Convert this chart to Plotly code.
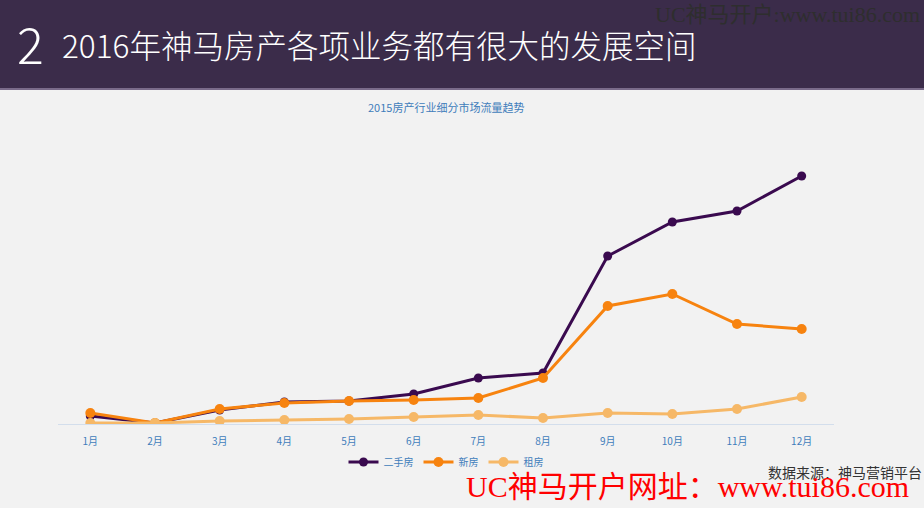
import plotly.graph_objs as go

# 2015 traffic trend per segment (relative units)
months = ["1月", "2月", "3月", "4月", "5月", "6月", "7月", "8月", "9月", "10月", "11月", "12月"]
ershou = [8, 1, 14, 22, 23, 30, 46, 51, 168, 202, 213, 248]
xinfang = [11, 1, 15, 21, 23, 24, 26, 46, 118, 130, 100, 95]
zufang = [1, 1, 3, 4, 5, 7, 9, 6, 11, 10, 15, 27]

W, H = 924, 508
L, R, T, B = 58, 90, 130, 84
pw, ph = W - L - R, H - T - B

def px(x):
    return (x - L) / pw

def py(y):
    return (H - B - y) / ph

cjk = "Noto Sans CJK SC"
serif = "Liberation Serif, Noto Sans CJK SC"
blue = "#3f7dbb"

trace1 = go.Scatter(x=months, y=ershou, name="二手房", mode="lines+markers",
                    line=dict(color="#3a0a4f", width=3), marker=dict(size=9))
trace2 = go.Scatter(x=months, y=xinfang, name="新房", mode="lines+markers",
                    line=dict(color="#f7830f", width=3), marker=dict(size=10))
trace3 = go.Scatter(x=months, y=zufang, name="租房", mode="lines+markers",
                    line=dict(color="#f6b867", width=3), marker=dict(size=10))

layout = go.Layout(
    width=W, height=H,
    margin=dict(l=L, r=R, t=T, b=B),
    paper_bgcolor="#f2f2f2", plot_bgcolor="#f2f2f2",
    showlegend=True,
    legend=dict(orientation="h", x=0.5, xanchor="center", y=py(462), yanchor="middle",
                font=dict(family=cjk, size=10, color=blue), bgcolor="rgba(0,0,0,0)",
                itemwidth=30, tracegroupgap=0),
    xaxis=dict(type="category", range=[-0.5, 11.5], showgrid=False, zeroline=False,
               showline=True, linecolor="#d3deec", linewidth=1, ticks="",
               ticklabelstandoff=8,
               tickfont=dict(family=cjk, size=10, color=blue)),
    yaxis=dict(range=[0, ph], visible=False, showgrid=False, zeroline=False),
    shapes=[
        dict(type="rect", xref="paper", yref="paper", layer="below",
             x0=px(0), x1=px(W), y0=py(88), y1=py(0),
             fillcolor="#3b2c4a", line=dict(width=0)),
        dict(type="line", xref="paper", yref="paper",
             x0=px(0), x1=px(W), y0=py(89), y1=py(89),
             line=dict(color="#7a6b8a", width=2)),
    ],
    annotations=[
        dict(text="2", xref="paper", yref="paper", x=px(15), y=py(42),
             xanchor="left", yanchor="middle", showarrow=False,
             font=dict(family=cjk, size=50, color="white", weight=300)),
        dict(text="2016年神马房产各项业务都有很大的发展空间", xref="paper", yref="paper",
             x=px(60), y=py(44), xanchor="left", yanchor="middle", showarrow=False,
             font=dict(family=cjk, size=31.5, color="white", weight=300)),
        dict(text="UC神马开户:www.tui86.com", xref="paper", yref="paper",
             x=px(922), y=py(15), xanchor="right", yanchor="middle", showarrow=False,
             font=dict(family=serif, size=22, color="#2e2e2e")),
        dict(text="2015房产行业细分市场流量趋势", xref="paper", yref="paper",
             x=px(446), y=py(107), xanchor="center", yanchor="middle", showarrow=False,
             font=dict(family=cjk, size=11, color=blue)),
        dict(text="数据来源：神马营销平台", xref="paper", yref="paper",
             x=px(924), y=py(472), xanchor="right", yanchor="middle", showarrow=False,
             font=dict(family=cjk, size=14, color="#333333")),
        dict(text="UC神马开户网址：www.tui86.com", xref="paper", yref="paper",
             x=px(464), y=py(486), xanchor="left", yanchor="middle", showarrow=False,
             font=dict(family=serif, size=30, color="#ff0000")),
    ],
)

fig = go.Figure(data=[trace1, trace2, trace3], layout=layout)
# the page body has a default margin, drop it so the figure sits at the top-left
fig.write_html("out.html", config={"displayModeBar": False},
               post_script="document.body.style.margin='0';")
